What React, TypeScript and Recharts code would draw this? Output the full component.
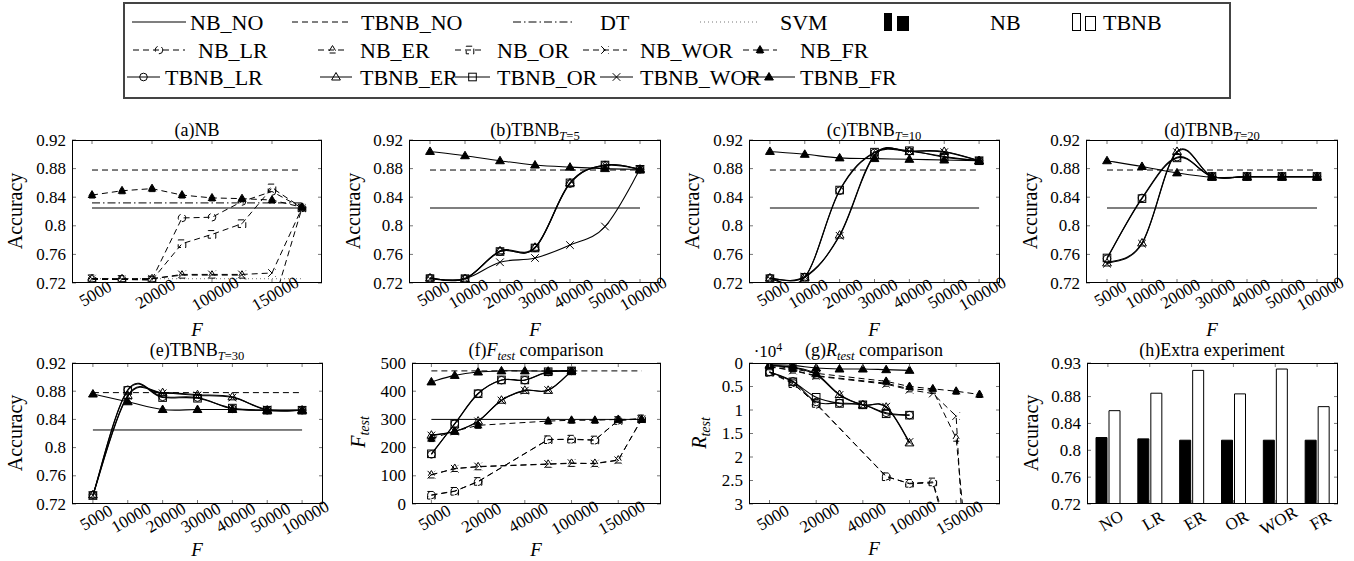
import { LineChart, Line, XAxis, YAxis, BarChart, Bar, ReferenceLine } from 'recharts'
import type { ReactNode } from 'react'

const FONT = '"Liberation Serif", "Times New Roman", "DejaVu Serif", serif'
const DASH = '6 4'
const DT_DASH = '8 3 1.5 3'
const SVM_DASH = '1 3'

// x settings
const TB_F = ['5000', '10000', '20000', '30000', '40000', '50000', '100000']
const A_TICKS = ['5000', '20000', '100000', '150000']
const FG_TICKS = ['5000', '20000', '40000', '100000', '150000']
const NB_POS = [0, 1, 2, 5, 6, 7, 8, 9] // slots of the 8 NB settings on the 10-slot axis of (f),(g)

// baselines
const NB_NO = 0.825
const TBNB_NO = 0.878
const DT = 0.832
const SVM = 0.726
const F_NB_NO = 300
const F_TBNB_NO = 472

// (a) NB
const aLR = [0.725, 0.725, 0.725, 0.811, 0.812, 0.834, 0.848, 0.825]
const aER = [0.726, 0.726, 0.726, 0.731, 0.731, 0.731, 0.684, 0.825]
const aOR = [0.726, 0.725, 0.724, 0.775, 0.788, 0.803, 0.853, 0.825]
const aWOR = [0.726, 0.725, 0.726, 0.732, 0.732, 0.732, 0.734, 0.825]
const aFR = [0.843, 0.849, 0.852, 0.843, 0.839, 0.838, 0.836, 0.826]

// (b) T=5
const bLR = [0.727, 0.726, 0.764, 0.769, 0.859, 0.885, 0.879]
const bER = [0.727, 0.726, 0.765, 0.77, 0.86, 0.884, 0.879]
const bOR = [0.726, 0.726, 0.764, 0.769, 0.86, 0.885, 0.879]
const bWOR = [0.726, 0.726, 0.749, 0.755, 0.773, 0.799, 0.879]
const bFR = [0.904, 0.898, 0.891, 0.885, 0.882, 0.88, 0.879]

// (c) T=10
const cLR = [0.727, 0.728, 0.849, 0.902, 0.904, 0.897, 0.891]
const cER = [0.727, 0.728, 0.787, 0.899, 0.904, 0.904, 0.891]
const cOR = [0.726, 0.728, 0.85, 0.903, 0.905, 0.896, 0.891]
const cWOR = [0.726, 0.729, 0.786, 0.898, 0.904, 0.903, 0.891]
const cFR = [0.904, 0.9, 0.895, 0.894, 0.893, 0.892, 0.891]

// (d) T=20
const dLR = [0.754, 0.839, 0.896, 0.869, 0.869, 0.869, 0.869]
const dER = [0.748, 0.776, 0.904, 0.869, 0.869, 0.869, 0.869]
const dOR = [0.755, 0.838, 0.895, 0.869, 0.869, 0.869, 0.869]
const dWOR = [0.747, 0.775, 0.903, 0.869, 0.869, 0.869, 0.869]
const dFR = [0.891, 0.883, 0.874, 0.868, 0.868, 0.868, 0.868]

// (e) T=30
const eLR = [0.733, 0.882, 0.872, 0.871, 0.855, 0.853, 0.853]
const eER = [0.733, 0.874, 0.878, 0.875, 0.872, 0.853, 0.853]
const eOR = [0.732, 0.881, 0.871, 0.87, 0.856, 0.853, 0.853]
const eWOR = [0.732, 0.873, 0.877, 0.874, 0.871, 0.854, 0.853]
const eFR = [0.876, 0.865, 0.854, 0.854, 0.854, 0.853, 0.853]

// (f) F_test
const fNLR = [32, 46, 79, 229, 229, 226, 297, 303]
const fNER = [103, 126, 132, 141, 144, 144, 156, 300]
const fNOR = [31, 45, 80, 228, 230, 227, 296, 302]
const fNWOR = [104, 125, 133, 142, 145, 143, 155, 301]
const fNFR = [232, 258, 279, 294, 297, 297, 300, 300]
const fTLR = [176, 285, 392, 439, 439, 468, 472]
const fTER = [244, 258, 294, 368, 403, 403, 472]
const fTOR = [178, 284, 391, 440, 440, 469, 472]
const fTWOR = [243, 257, 293, 367, 402, 404, 472]
const fTFR = [433, 456, 468, 472, 472, 471, 472]

// (g) R_test
const gNLR = [1900, 4200, 8800, 24100, 25700, 25500, 43000, 80000]
const gNER = [800, 1500, 2700, 4300, 5500, 5800, 16000, 68000]
const gNOR = [2000, 4400, 8600, 24200, 25600, 25300, 41000, 75000]
const gNWOR = [800, 1600, 2800, 4500, 5700, 6500, 11300, 100000]
const gNFR = [500, 1200, 2200, 3900, 5000, 5500, 6000, 6700]
const gTLR = [1900, 3900, 8300, 8500, 8900, 10600, 11100]
const gTER = [500, 900, 2300, 6700, 8900, 9400, 17000]
const gTOR = [1900, 4000, 7300, 8600, 8900, 10800, 11100]
const gTWOR = [500, 1000, 2500, 6800, 8900, 9300, 16800]
const gTFR = [350, 500, 1060, 1280, 1280, 1420, 1560]

// (h) extra experiment
const H_CATS = ['NO', 'LR', 'ER', 'OR', 'WOR', 'FR']
const hNB = [0.819, 0.817, 0.815, 0.815, 0.815, 0.815]
const hTBNB = [0.859, 0.885, 0.919, 0.884, 0.921, 0.865]

const ACC_TICKS = [0.72, 0.76, 0.8, 0.84, 0.88, 0.92]
const F_TICKS = [0, 100, 200, 300, 400, 500]
const R_TICKS = [0, 5000, 10000, 15000, 20000, 25000, 30000]
const H_TICKS = [0.72, 0.76, 0.8, 0.84, 0.88, 0.93]

type Shape = 'o' | 't' | 's' | 'x' | 'f'
type Rect = { x: number; y: number; w: number; h: number }

const STYLE: Record<string, { shape: Shape; dash?: string; smooth?: boolean }> = {
  nLR: { shape: 'o', dash: DASH },
  nER: { shape: 't', dash: DASH },
  nOR: { shape: 's', dash: DASH },
  nWOR: { shape: 'x', dash: DASH },
  nFR: { shape: 'f', dash: DASH },
  tLR: { shape: 'o', smooth: true },
  tER: { shape: 't', smooth: true },
  tOR: { shape: 's', smooth: true },
  tWOR: { shape: 'x', smooth: true },
  tFR: { shape: 'f', smooth: true },
}
const NB_KEYS = ['nLR', 'nER', 'nOR', 'nWOR', 'nFR']
const TB_KEYS = ['tLR', 'tER', 'tOR', 'tWOR', 'tFR']

function makeRows(n: number, cols: Record<string, (number | null)[]>) {
  return Array.from({ length: n }, (_, i) => {
    const r: Record<string, number | null> = { i }
    for (const k in cols) r[k] = cols[k][i] ?? null
    return r
  })
}
function spread(vals: number[], pos: number[], n: number) {
  const out: (number | null)[] = Array(n).fill(null)
  pos.forEach((p, j) => (out[p] = vals[j]))
  return out
}

// cardinal-like smooth curve, close to pgfplots "smooth"
function smooth(context: any) {
  let pts: number[][] = []
  return {
    areaStart() {},
    areaEnd() {},
    lineStart() {
      pts = []
    },
    lineEnd() {
      const n = pts.length
      if (!n) return
      context.moveTo(pts[0][0], pts[0][1])
      const k = 0.18
      for (let i = 0; i < n - 1; i++) {
        const p0 = pts[Math.max(i - 1, 0)]
        const p1 = pts[i]
        const p2 = pts[i + 1]
        const p3 = pts[Math.min(i + 2, n - 1)]
        context.bezierCurveTo(
          p1[0] + k * (p2[0] - p0[0]), p1[1] + k * (p2[1] - p0[1]),
          p2[0] - k * (p3[0] - p1[0]), p2[1] - k * (p3[1] - p1[1]),
          p2[0], p2[1],
        )
      }
    },
    point(x: number, y: number) {
      pts.push([+x, +y])
    },
  }
}

function Mark({ cx, cy, shape, dash }: { cx?: number; cy?: number; shape: Shape; dash?: string }) {
  if (cx == null || cy == null || !isFinite(cx) || !isFinite(cy)) return <g />
  const st = { stroke: '#000', strokeWidth: 1, strokeDasharray: dash }
  const r = 3.8
  if (shape === 'o') return <circle cx={cx} cy={cy} r={r} fill="none" {...st} />
  if (shape === 's') return <rect x={cx - r} y={cy - r} width={2 * r} height={2 * r} fill="none" {...st} />
  if (shape === 'x')
    return <path d={`M${cx - r},${cy - r}L${cx + r},${cy + r}M${cx - r},${cy + r}L${cx + r},${cy - r}`} fill="none" {...st} />
  const d = `M${cx},${cy - r - 0.7}L${cx + r + 0.6},${cy + r - 0.8}L${cx - r - 0.6},${cy + r - 0.8}Z`
  return <path d={d} fill={shape === 'f' ? '#000' : 'none'} {...st} />
}

function XTick(props: any) {
  const { x, y, payload, plotH, off, fmt } = props
  return (
    <g>
      <line x1={x} y1={y} x2={x} y2={y - 4} stroke="#777" />
      <line x1={x} y1={y - plotH} x2={x} y2={y - plotH + 4} stroke="#777" />
      <text transform={`translate(${x},${y + off}) rotate(-30)`} textAnchor="middle" dy="0.72em" fontSize={17} fontFamily={FONT} fill="#000">
        {fmt(payload.value)}
      </text>
    </g>
  )
}

function YTick(props: any) {
  const { x, y, payload, plotW, fmt } = props
  return (
    <g>
      <line x1={x} y1={y} x2={x + 4} y2={y} stroke="#777" />
      <line x1={x + plotW - 4} y1={y} x2={x + plotW} y2={y} stroke="#777" />
      <text x={x - 6} y={y} textAnchor="end" dominantBaseline="central" fontSize={17} fontFamily={FONT} fill="#000">
        {fmt(payload.value)}
      </text>
    </g>
  )
}

function Frame({ r }: { r: Rect }) {
  return (
    <div style={{ position: 'absolute', left: r.x, top: r.y, width: r.w, height: r.h, border: '1px solid #000', boxSizing: 'border-box', pointerEvents: 'none' }} />
  )
}

type HLine = { y: number; to: number; dash?: string; stroke?: string; width?: number }

function LinePanel(p: {
  r: Rect
  data: any[]
  series: string[]
  xDomain: [number, number]
  xTicks: number[]
  xLabels: string[]
  yDomain: [number, number]
  yTicks: number[]
  yFmt?: (v: number) => string
  reversed?: boolean
  hlines: HLine[]
  off: number
}) {
  const { r } = p
  const xFmt = (v: number) => p.xLabels[p.xTicks.indexOf(v)]
  return (
    <>
      <div style={{ position: 'absolute', left: r.x - 80, top: r.y - 10 }}>
        <LineChart width={r.w + 90} height={r.h + 80} data={p.data} margin={{ top: 10, right: 10, bottom: 0, left: 0 }}>
          <XAxis dataKey="i" type="number" domain={p.xDomain} ticks={p.xTicks} interval={0} allowDataOverflow axisLine={false} tickLine={false} tickSize={0} tickMargin={0} height={70}
            tick={<XTick plotH={r.h} off={p.off} fmt={xFmt} />} />
          <YAxis type="number" domain={p.yDomain} ticks={p.yTicks} interval={0} allowDataOverflow reversed={p.reversed} axisLine={false} tickLine={false} tickSize={0} tickMargin={0} width={80}
            tick={<YTick plotW={r.w} fmt={p.yFmt ?? String} />} />
          {p.hlines.map((h, k) => (
            <ReferenceLine key={k} segment={[{ x: 0, y: h.y }, { x: h.to, y: h.y }]} stroke={h.stroke ?? '#000'} strokeWidth={h.width ?? 1} strokeDasharray={h.dash} />
          ))}
          {p.series.map((key) => {
            const s = STYLE[key]
            return (
              <Line key={key} dataKey={key} stroke="#000" strokeWidth={s.smooth ? 1.1 : 1} strokeDasharray={s.dash}
                type={s.smooth ? (smooth as any) : 'linear'} connectNulls isAnimationActive={false} activeDot={false}
                dot={(d: any) => <Mark key={`${key}-${d.index}`} cx={d.cx} cy={d.cy} shape={s.shape} dash={s.dash} />} />
            )
          })}
        </LineChart>
      </div>
      <Frame r={r} />
    </>
  )
}

function Txt({ x, y, size, rot, italic, children }: { x: number; y: number; size: number; rot?: boolean; italic?: boolean; children: ReactNode }) {
  return (
    <div style={{ position: 'absolute', left: x, top: y, transform: `translate(-50%,-50%)${rot ? ' rotate(-90deg)' : ''}`, fontFamily: FONT, fontSize: size, fontStyle: italic ? 'italic' : 'normal', whiteSpace: 'nowrap', lineHeight: 1 }}>
      {children}
    </div>
  )
}
const Sub = ({ children }: { children: ReactNode }) => (
  <span style={{ fontSize: '0.7em', position: 'relative', top: '0.3em' }}>{children}</span>
)

const LEG = [
  { label: 'NB_NO', y: 22, x1: 132, x2: 186, tx: 190, stroke: '#555', width: 1.4 },
  { label: 'TBNB_NO', y: 22, x1: 292, x2: 350, tx: 361, dash: DASH },
  { label: 'DT', y: 22, x1: 513, x2: 572, tx: 600, dash: DT_DASH },
  { label: 'SVM', y: 22, x1: 700, x2: 760, tx: 780, dash: SVM_DASH, stroke: '#777' },
  { label: 'NB_LR', y: 50, x1: 133, x2: 185, tx: 198, dash: DASH, shape: 'o' as Shape },
  { label: 'NB_ER', y: 50, x1: 318, x2: 347, tx: 360, dash: DASH, shape: 't' as Shape },
  { label: 'NB_OR', y: 50, x1: 455, x2: 485, tx: 497, dash: DASH, shape: 's' as Shape },
  { label: 'NB_WOR', y: 50, x1: 583, x2: 627, tx: 640, dash: DASH, shape: 'x' as Shape },
  { label: 'NB_FR', y: 50, x1: 743, x2: 777, tx: 800, dash: DASH, shape: 'f' as Shape },
  { label: 'TBNB_LR', y: 77, x1: 127, x2: 160, tx: 165, shape: 'o' as Shape },
  { label: 'TBNB_ER', y: 77, x1: 320, x2: 352, tx: 360, shape: 't' as Shape },
  { label: 'TBNB_OR', y: 77, x1: 455, x2: 490, tx: 497, shape: 's' as Shape },
  { label: 'TBNB_WOR', y: 77, x1: 600, x2: 633, tx: 640, shape: 'x' as Shape },
  { label: 'TBNB_FR', y: 77, x1: 743, x2: 795, tx: 800, shape: 'f' as Shape },
]

function LegendBox() {
  const tStyle = { fontSize: 22, fontFamily: FONT, fill: '#000' }
  return (
    <svg width={1354} height={102} style={{ position: 'absolute', left: 0, top: 0 }}>
      <rect x={124} y={3} width={1106} height={95} fill="#fff" stroke="#444" strokeWidth={2} />
      {LEG.map((l) => (
        <g key={l.label}>
          <line x1={l.x1} x2={l.x2} y1={l.y} y2={l.y} stroke={l.stroke ?? '#000'} strokeWidth={l.width ?? 1} strokeDasharray={l.dash} />
          {l.shape && <Mark cx={(l.x1 + l.x2) / 2} cy={l.y} shape={l.shape} dash={l.dash} />}
          <text x={l.tx} y={l.y} dominantBaseline="central" {...tStyle}>{l.label}</text>
        </g>
      ))}
      <rect x={884} y={13} width={8} height={18} fill="#000" />
      <rect x={897} y={16} width={12} height={15} fill="#000" />
      <text x={990} y={22} dominantBaseline="central" {...tStyle}>NB</text>
      <rect x={1072.5} y={13.5} width={8} height={17} fill="#fff" stroke="#000" />
      <rect x={1085.5} y={16.5} width={10} height={14} fill="#fff" stroke="#000" />
      <text x={1103} y={22} dominantBaseline="central" {...tStyle}>TBNB</text>
    </svg>
  )
}

const RA = { x: 72, y: 140, w: 250, h: 143 }
const RB = { x: 409, y: 140, w: 252, h: 143 }
const RC = { x: 749, y: 140, w: 251, h: 143 }
const RD = { x: 1086, y: 140, w: 252, h: 143 }
const RE = { x: 72, y: 363, w: 251, h: 141 }
const RF = { x: 412, y: 363, w: 249, h: 141 }
const RG = { x: 749, y: 363, w: 251, h: 141 }
const RH = { x: 1087, y: 363, w: 251, h: 141 }

const aRows = makeRows(8, { nLR: aLR, nER: aER, nOR: aOR, nWOR: aWOR, nFR: aFR })
const bRows = makeRows(7, { tLR: bLR, tER: bER, tOR: bOR, tWOR: bWOR, tFR: bFR })
const cRows = makeRows(7, { tLR: cLR, tER: cER, tOR: cOR, tWOR: cWOR, tFR: cFR })
const dRows = makeRows(7, { tLR: dLR, tER: dER, tOR: dOR, tWOR: dWOR, tFR: dFR })
const eRows = makeRows(7, { tLR: eLR, tER: eER, tOR: eOR, tWOR: eWOR, tFR: eFR })
const fRows = makeRows(10, {
  nLR: spread(fNLR, NB_POS, 10), nER: spread(fNER, NB_POS, 10), nOR: spread(fNOR, NB_POS, 10),
  nWOR: spread(fNWOR, NB_POS, 10), nFR: spread(fNFR, NB_POS, 10),
  tLR: fTLR, tER: fTER, tOR: fTOR, tWOR: fTWOR, tFR: fTFR,
})
const gRows = makeRows(10, {
  nLR: spread(gNLR, NB_POS, 10), nER: spread(gNER, NB_POS, 10), nOR: spread(gNOR, NB_POS, 10),
  nWOR: spread(gNWOR, NB_POS, 10), nFR: spread(gNFR, NB_POS, 10),
  tLR: gTLR, tER: gTER, tOR: gTOR, tWOR: gTWOR, tFR: gTFR,
})
const hRows = H_CATS.map((cat, i) => ({ cat, nb: hNB[i], tbnb: hTBNB[i] }))

const TB_IDX = [0, 1, 2, 3, 4, 5, 6]
const tbLines = (solid: string, w: number): HLine[] => [
  { y: NB_NO, to: 6, stroke: solid, width: w },
  { y: TBNB_NO, to: 6, dash: DASH },
]

export default function App() {
  const accPanel = { xDomain: [-0.6, 6.6] as [number, number], xTicks: TB_IDX, xLabels: TB_F, yDomain: [0.72, 0.92] as [number, number], yTicks: ACC_TICKS, series: TB_KEYS }
  return (
    <div style={{ position: 'absolute', left: 0, top: 0, width: 1354, height: 561, background: '#fff', overflow: 'hidden', fontFamily: FONT }}>
      <LegendBox />

      <LinePanel r={RA} data={aRows} series={NB_KEYS} xDomain={[-0.667, 7.667]} xTicks={[0, 2, 4, 6]} xLabels={A_TICKS}
        yDomain={[0.72, 0.92]} yTicks={ACC_TICKS} off={5}
        hlines={[
          { y: NB_NO, to: 7, stroke: '#555', width: 1.4 },
          { y: TBNB_NO, to: 7, dash: DASH },
          { y: DT, to: 7, dash: DT_DASH },
          { y: SVM, to: 7, dash: SVM_DASH, stroke: '#777' },
        ]} />
      <LinePanel r={RB} data={bRows} {...accPanel} off={5} hlines={tbLines('#555', 1.4)} />
      <LinePanel r={RC} data={cRows} {...accPanel} off={5} hlines={tbLines('#555', 1.4)} />
      <LinePanel r={RD} data={dRows} {...accPanel} off={5} hlines={tbLines('#555', 1.4)} />
      <LinePanel r={RE} data={eRows} {...accPanel} off={8} hlines={tbLines('#000', 1)} />
      <LinePanel r={RF} data={fRows} series={[...NB_KEYS, ...TB_KEYS]} xDomain={[-0.83, 9.83]} xTicks={[0, 2, 4, 6, 8]} xLabels={FG_TICKS}
        yDomain={[0, 500]} yTicks={F_TICKS} off={8}
        hlines={[{ y: F_NB_NO, to: 9 }, { y: F_TBNB_NO, to: 9, dash: DASH }]} />
      <LinePanel r={RG} data={gRows} series={[...NB_KEYS, ...TB_KEYS]} xDomain={[-0.88, 9.88]} xTicks={[0, 2, 4, 6, 8]} xLabels={FG_TICKS}
        yDomain={[0, 30000]} yTicks={R_TICKS} yFmt={(v) => String(v / 10000)} reversed off={8} hlines={[]} />

      <div style={{ position: 'absolute', left: RH.x - 80, top: RH.y - 10 }}>
        <BarChart width={RH.w + 90} height={RH.h + 80} data={hRows} margin={{ top: 10, right: 10, bottom: 0, left: 0 }} barGap={2}>
          <XAxis dataKey="cat" interval={0} axisLine={false} tickLine={false} tickSize={0} tickMargin={0} height={70}
            tick={<XTick plotH={RH.h} off={11} fmt={(v: string) => v} />} />
          <YAxis type="number" domain={[0.72, 0.93]} ticks={H_TICKS} interval={0} allowDataOverflow axisLine={false} tickLine={false} tickSize={0} tickMargin={0} width={80}
            tick={<YTick plotW={RH.w} fmt={String} />} />
          <Bar dataKey="nb" fill="#000" stroke="#000" barSize={11} isAnimationActive={false} />
          <Bar dataKey="tbnb" fill="#fff" stroke="#000" barSize={11} isAnimationActive={false} />
        </BarChart>
      </div>
      <Frame r={RH} />

      {/* titles */}
      <Txt x={197} y={130} size={18}>(a)NB</Txt>
      <Txt x={535} y={130} size={18}>(b)TBNB<Sub><i>T</i>=5</Sub></Txt>
      <Txt x={874} y={130} size={18}>(c)TBNB<Sub><i>T</i>=10</Sub></Txt>
      <Txt x={1212} y={130} size={18}>(d)TBNB<Sub><i>T</i>=20</Sub></Txt>
      <Txt x={197} y={350} size={18}>(e)TBNB<Sub><i>T</i>=30</Sub></Txt>
      <Txt x={536} y={350} size={18}>(f)<i>F</i><Sub><i>test</i></Sub> comparison</Txt>
      <Txt x={874} y={350} size={18}>(g)<i>R</i><Sub><i>test</i></Sub> comparison</Txt>
      <Txt x={1212} y={350} size={18}>(h)Extra experiment</Txt>

      {/* y labels */}
      <Txt x={15} y={211} size={20} rot>Accuracy</Txt>
      <Txt x={353} y={211} size={20} rot>Accuracy</Txt>
      <Txt x={692} y={211} size={20} rot>Accuracy</Txt>
      <Txt x={1030} y={211} size={20} rot>Accuracy</Txt>
      <Txt x={15} y={433} size={20} rot>Accuracy</Txt>
      <Txt x={358} y={432} size={20} rot><i>F</i><Sub><i>test</i></Sub></Txt>
      <Txt x={699} y={433} size={20} rot><i>R</i><Sub><i>test</i></Sub></Txt>
      <Txt x={1031} y={433} size={20} rot>Accuracy</Txt>
      <Txt x={768} y={351} size={17}>·10<span style={{ fontSize: '0.7em', position: 'relative', top: '-0.5em' }}>4</span></Txt>

      {/* x labels */}
      <Txt x={197} y={329} size={19} italic>F</Txt>
      <Txt x={535} y={329} size={19} italic>F</Txt>
      <Txt x={874} y={329} size={19} italic>F</Txt>
      <Txt x={1212} y={329} size={19} italic>F</Txt>
      <Txt x={197} y={549} size={19} italic>F</Txt>
      <Txt x={536} y={549} size={19} italic>F</Txt>
      <Txt x={874} y={548} size={19} italic>F</Txt>
    </div>
  )
}
